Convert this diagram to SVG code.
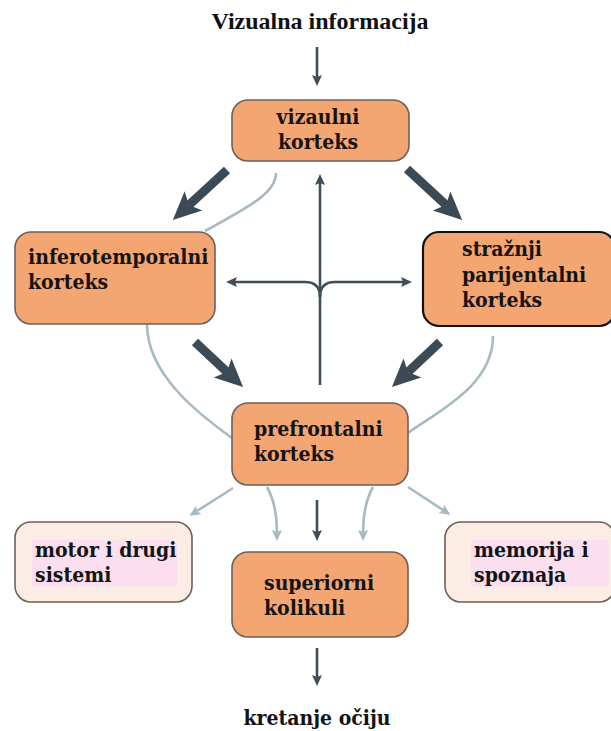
<svg xmlns="http://www.w3.org/2000/svg" width="611" height="731" viewBox="0 0 611 731">
<style>
.box{fill:#f4a672;stroke:#6e5f57;stroke-width:1.6}
.pale{fill:#fbede4;stroke:#6e5f57;stroke-width:1.6}
.hl{fill:#fbdfee}
.t{font-family:"DejaVu Serif Condensed","DejaVu Serif",serif;font-stretch:condensed;font-weight:bold;font-size:21px;fill:#141414}
.title{font-family:"Liberation Serif",serif;font-weight:bold;font-size:24px;fill:#111}
.big{stroke:#3b4a54;stroke-width:9;fill:none}
.dk{stroke:#3f4e58;stroke-width:2.6;fill:none}
.lt{stroke:#a7bac3;stroke-width:2.6;fill:none}
</style>
<defs>
<marker id="bighead" markerUnits="userSpaceOnUse" markerWidth="28" markerHeight="28" viewBox="0 0 28 28" refX="6" refY="14" orient="auto"><path d="M0,1 L28,14 L0,27 L6,14 z" fill="#3b4a54"/></marker>
<marker id="dkhead" markerUnits="userSpaceOnUse" markerWidth="12" markerHeight="12" viewBox="0 0 12 12" refX="2" refY="6" orient="auto"><path d="M0,1 L11,6 L0,11 L2,6 z" fill="#3f4e58"/></marker>
<marker id="lthead" markerUnits="userSpaceOnUse" markerWidth="12" markerHeight="12" viewBox="0 0 12 12" refX="2" refY="6" orient="auto"><path d="M0,1 L11,6 L0,11 L2,6 z" fill="#a7bac3"/></marker>
</defs>
<text class="title" x="320" y="29" text-anchor="middle">Vizualna informacija</text>
<text class="t" x="317" y="725" text-anchor="middle">kretanje očiju</text>
<g id="connectors">
<path class="dk" d="M317,47 L317,77" marker-end="url(#dkhead)"/>
<path class="big" d="M227,170 L189,205" marker-end="url(#bighead)"/>
<path class="big" d="M407,169 L446,205" marker-end="url(#bighead)"/>
<path class="big" d="M195,342 L227,372" marker-end="url(#bighead)"/>
<path class="big" d="M440,342 L408,372" marker-end="url(#bighead)"/>
<path class="dk" d="M320,385 L320,183" marker-end="url(#dkhead)"/>
<path class="dk" d="M320,297 Q320,282 305,282 L235,282" marker-end="url(#dkhead)"/>
<path class="dk" d="M320,297 Q320,282 335,282 L403,282" marker-end="url(#dkhead)"/>
<path class="lt" d="M276,173 C276,193 250,206 205,231"/>
<path class="lt" d="M147,324 C147,375 200,415 232,438"/>
<path class="lt" d="M493,336 C493,385 440,410 408,433"/>
<path class="lt" d="M233,488 L197,511" marker-end="url(#lthead)"/>
<path class="lt" d="M408,487 L443,510" marker-end="url(#lthead)"/>
<path class="lt" d="M267,487 Q277,505 277,532" marker-end="url(#lthead)"/>
<path class="lt" d="M373,487 Q363,505 363,532" marker-end="url(#lthead)"/>
<path class="dk" d="M317,500 L317,532" marker-end="url(#dkhead)"/>
<path class="dk" d="M317,648 L317,677" marker-end="url(#dkhead)"/>
</g>
<g id="vizaulni">
<rect class="box" x="232" y="100" width="177" height="61" rx="16"/>
<text class="t" x="318" y="124" text-anchor="middle">vizaulni</text>
<text class="t" x="318" y="149" text-anchor="middle">korteks</text>
</g>
<g id="inferotemporalni">
<rect class="box" x="15" y="232" width="200" height="92" rx="16"/>
<text class="t" x="28" y="264">inferotemporalni</text>
<text class="t" x="28" y="289">korteks</text>
</g>
<g id="parijentalni">
<rect class="box" x="423" y="232" width="192" height="94" rx="16" style="stroke:#111;stroke-width:2.2"/>
<text class="t" x="462" y="256">stražnji</text>
<text class="t" x="462" y="282">parijentalni</text>
<text class="t" x="462" y="307">korteks</text>
</g>
<g id="prefrontalni">
<rect class="box" x="232" y="403" width="176" height="82" rx="16"/>
<text class="t" x="254" y="436">prefrontalni</text>
<text class="t" x="254" y="461">korteks</text>
</g>
<g id="motor">
<rect class="pale" x="15" y="522" width="177" height="80" rx="16"/>
<rect class="hl" x="32" y="540" width="145" height="47"/>
<text class="t" x="35" y="557">motor i drugi</text>
<text class="t" x="35" y="582">sistemi</text>
</g>
<g id="superiorni">
<rect class="box" x="232" y="552" width="176" height="85" rx="16"/>
<text class="t" x="264" y="590">superiorni</text>
<text class="t" x="264" y="615">kolikuli</text>
</g>
<g id="memorija">
<rect class="pale" x="445" y="522" width="170" height="80" rx="16"/>
<rect class="hl" x="471" y="540" width="138" height="47"/>
<text class="t" x="474" y="557">memorija i</text>
<text class="t" x="474" y="582">spoznaja</text>
</g>
</svg>
